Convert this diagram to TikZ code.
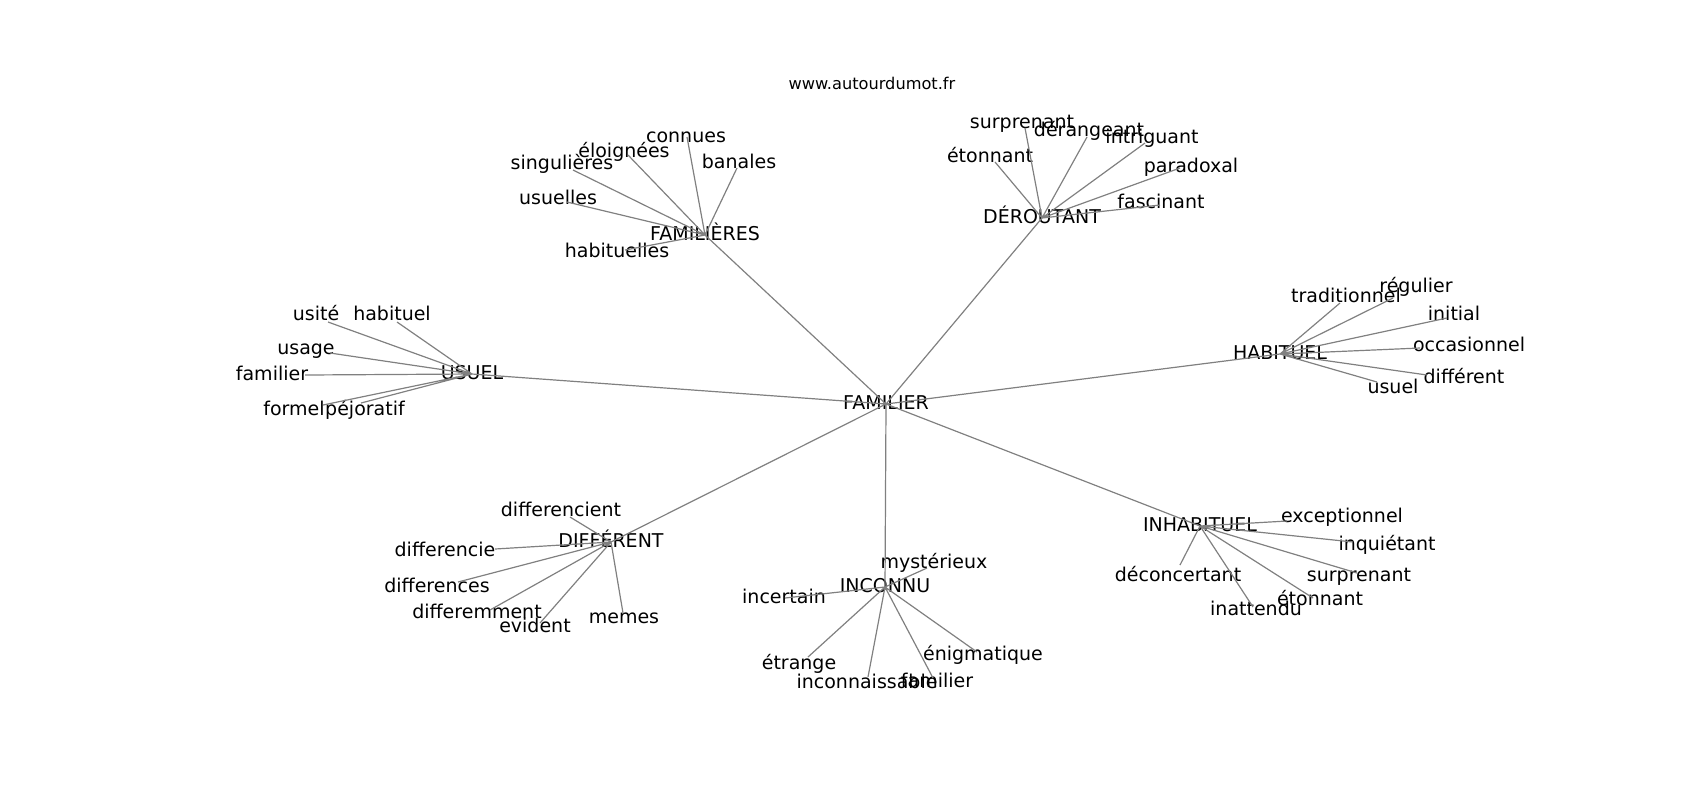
\documentclass[tikz,border=0pt]{standalone}
\usepackage{fontspec}
\setmainfont{DejaVu Sans}
\usepackage{tikz}
\usetikzlibrary{positioning}

\begin{document}
\begin{tikzpicture}[
    x=0.5pt, y=-0.5pt,
    word/.style={inner sep=0pt, text height=0.52em, text depth=0pt, font=\fontsize{9.5}{11}\selectfont},
    edge/.style={draw=gray, line width=0.6pt}
]
\useasboundingbox (0,0) rectangle (1700,800);
\node[inner sep=0pt, font=\fontsize{8.1}{10}\selectfont](site) at (872,83){www.autourdumot.fr};

% centre et groupes
\node[word](familier) at (886,404){FAMILIER};
\node[word](familieres) at (705,235){FAMILIÈRES};
\node[word](deroutant) at (1042,218){DÉROUTANT};
\node[word](habituel) at (1280,354){HABITUEL};
\node[word](usuel) at (472,374){USUEL};
\node[word](different) at (611,542){DIFFÉRENT};
\node[word](inconnu) at (885,587){INCONNU};
\node[word](inhabituel) at (1200,526){INHABITUEL};

% FAMILIÈRES
\node[word](fa1) at (686,137){connues};
\node[word](fa2) at (624,152){éloignées};
\node[word](fa3) at (562,164){singulières};
\node[word](fa4) at (739,163){banales};
\node[word](fa5) at (558,199){usuelles};
\node[word](fa6) at (617,252){habituelles};
\coordinate (fa1e) at (687,137);
\coordinate (fa2e) at (628,155);
\coordinate (fa3e) at (573,170);
\coordinate (fa4e) at (737,168);
\coordinate (fa5e) at (567,202);
\coordinate (fa6e) at (625,250);

% DÉROUTANT
\node[word](de1) at (1022,123){surprenant};
\node[word](de2) at (1089,131){dérangeant};
\node[word](de3) at (1152,138){intriguant};
\node[word](de4) at (990,157){étonnant};
\node[word](de5) at (1191,167){paradoxal};
\node[word](de6) at (1161,203){fascinant};
\coordinate (de1e) at (1025,128);
\coordinate (de2e) at (1087,137);
\coordinate (de3e) at (1145,143);
\coordinate (de4e) at (995,162);
\coordinate (de5e) at (1180,168);
\coordinate (de6e) at (1160,205);

% HABITUEL
\node[word](ha1) at (1346,297){traditionnel};
\node[word](ha2) at (1416,287){régulier};
\node[word](ha3) at (1454,315){initial};
\node[word](ha4) at (1469,346){occasionnel};
\node[word](ha5) at (1464,378){différent};
\node[word](ha6) at (1393,388){usuel};
\coordinate (ha1e) at (1340,303);
\coordinate (ha2e) at (1393,298);
\coordinate (ha3e) at (1447,318);
\coordinate (ha4e) at (1420,348);
\coordinate (ha5e) at (1427,375);
\coordinate (ha6e) at (1377,382);

% USUEL
\node[word](us1) at (316,315){usité};
\node[word](us2) at (392,315){habituel};
\node[word](us3) at (306,349){usage};
\node[word](us4) at (272,375){familier};
\node[word](us5) at (294,410){formel};
\node[word](us6) at (365,410){péjoratif};
\coordinate (us1e) at (328,322);
\coordinate (us2e) at (397,322);
\coordinate (us3e) at (330,353);
\coordinate (us4e) at (305,375);
\coordinate (us5e) at (323,405);
\coordinate (us6e) at (361,403);

% DIFFÉRENT
\node[word](di1) at (561,511){differencient};
\node[word](di2) at (445,551){differencie};
\node[word](di3) at (437,587){differences};
\node[word](di4) at (477,613){differemment};
\node[word](di5) at (535,627){evident};
\node[word](di6) at (624,618){memes};
\coordinate (di1e) at (570,517);
\coordinate (di2e) at (495,549);
\coordinate (di3e) at (458,582);
\coordinate (di4e) at (490,610);
\coordinate (di5e) at (540,623);
\coordinate (di6e) at (623,613);

% INCONNU
\node[word](in1) at (934,563){mystérieux};
\node[word](in2) at (784,598){incertain};
\node[word](in3) at (799,664){étrange};
\node[word](in4) at (867,683){inconnaissable};
\node[word](in5) at (937,682){familier};
\node[word](in6) at (983,655){énigmatique};
\coordinate (in1e) at (927,568);
\coordinate (in2e) at (785,598);
\coordinate (in3e) at (808,657);
\coordinate (in4e) at (868,677);
\coordinate (in5e) at (933,678);
\coordinate (in6e) at (977,652);

% INHABITUEL
\node[word](ih1) at (1342,517){exceptionnel};
\node[word](ih2) at (1387,545){inquiétant};
\node[word](ih3) at (1178,576){déconcertant};
\node[word](ih4) at (1359,576){surprenant};
\node[word](ih5) at (1320,600){étonnant};
\node[word](ih6) at (1256,610){inattendu};
\coordinate (ih1e) at (1287,521);
\coordinate (ih2e) at (1353,542);
\coordinate (ih3e) at (1180,565);
\coordinate (ih4e) at (1357,573);
\coordinate (ih5e) at (1313,598);
\coordinate (ih6e) at (1253,607);

% liens
\draw[edge] (familier.center) -- (familieres.center) (familier.center) -- (deroutant.center)
    (familier.center) -- (habituel.center) (familier.center) -- (usuel.center)
    (familier.center) -- (different.center) (familier.center) -- (inconnu.center)
    (familier.center) -- (inhabituel.center);
\draw[edge] (familieres.center) -- (fa1e) (familieres.center) -- (fa2e) (familieres.center) -- (fa3e)
    (familieres.center) -- (fa4e) (familieres.center) -- (fa5e) (familieres.center) -- (fa6e);
\draw[edge] (deroutant.center) -- (de1e) (deroutant.center) -- (de2e) (deroutant.center) -- (de3e)
    (deroutant.center) -- (de4e) (deroutant.center) -- (de5e) (deroutant.center) -- (de6e);
\draw[edge] (habituel.center) -- (ha1e) (habituel.center) -- (ha2e) (habituel.center) -- (ha3e)
    (habituel.center) -- (ha4e) (habituel.center) -- (ha5e) (habituel.center) -- (ha6e);
\draw[edge] (usuel.center) -- (us1e) (usuel.center) -- (us2e) (usuel.center) -- (us3e)
    (usuel.center) -- (us4e) (usuel.center) -- (us5e) (usuel.center) -- (us6e);
\draw[edge] (different.center) -- (di1e) (different.center) -- (di2e) (different.center) -- (di3e)
    (different.center) -- (di4e) (different.center) -- (di5e) (different.center) -- (di6e);
\draw[edge] (inconnu.center) -- (in1e) (inconnu.center) -- (in2e) (inconnu.center) -- (in3e)
    (inconnu.center) -- (in4e) (inconnu.center) -- (in5e) (inconnu.center) -- (in6e);
\draw[edge] (inhabituel.center) -- (ih1e) (inhabituel.center) -- (ih2e) (inhabituel.center) -- (ih3e)
    (inhabituel.center) -- (ih4e) (inhabituel.center) -- (ih5e) (inhabituel.center) -- (ih6e);
\end{tikzpicture}
\end{document}
